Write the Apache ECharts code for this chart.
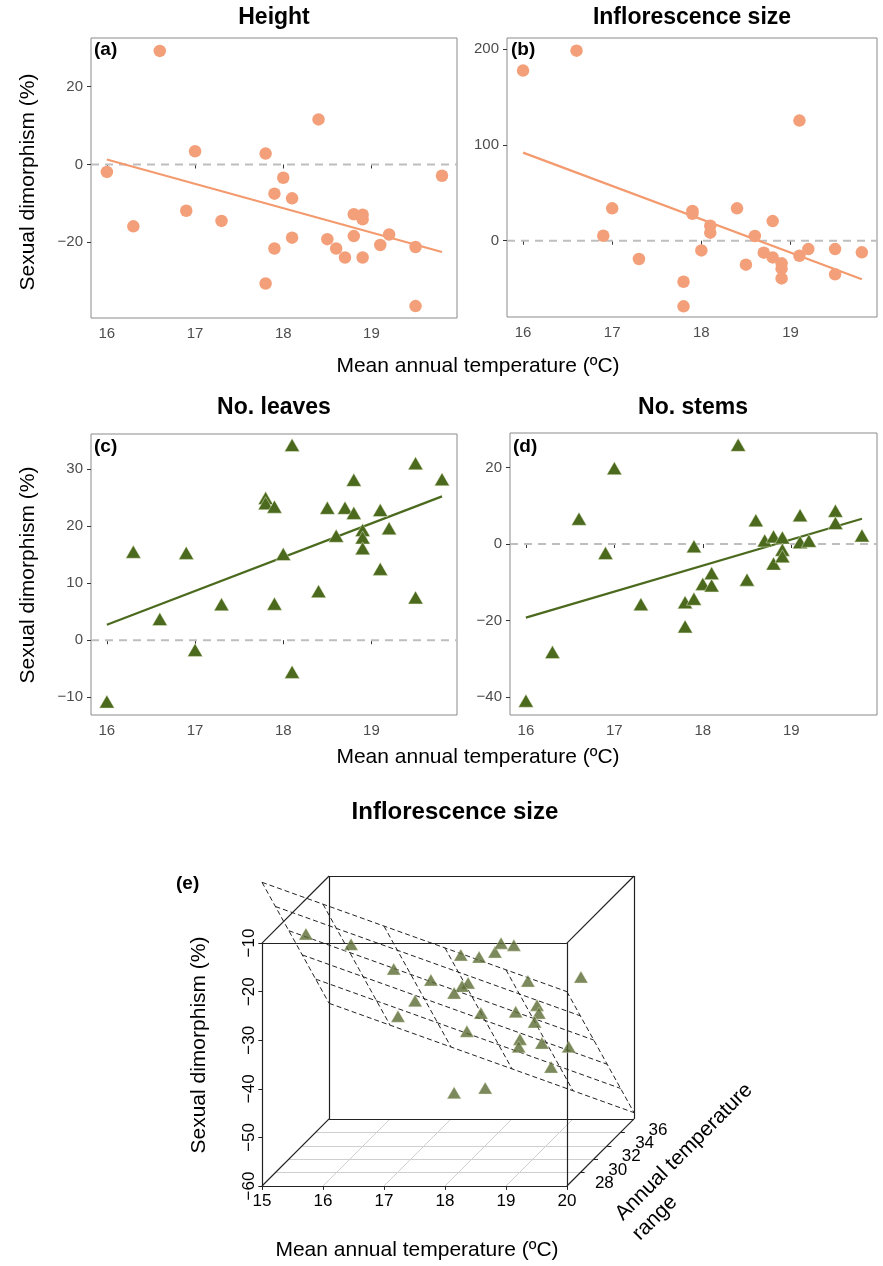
<!DOCTYPE html>
<html>
<head>
<meta charset="utf-8">
<script src="https://cdn.jsdelivr.net/npm/echarts@6.0.0/dist/echarts.min.js"></script>
<style>
html,body{margin:0;padding:0;background:#fff;}
#main{width:883px;height:1266px;}
</style>
</head>
<body>
<div id="main"></div>
<script>
// ---------- DATA ----------
// (a) Height
const matA = [16.0,16.6,16.3,16.9,17.0,17.3,17.8,17.8,17.9,17.9,18.0,18.1,18.1,18.4,18.5,18.6,18.7,18.8,18.8,18.9,18.9,18.9,19.1,19.2,19.5,19.5,19.8];
const heightDim = [-1.9,29.2,-15.9,-11.9,3.4,-14.5,2.8,-30.6,-7.5,-21.6,-3.4,-8.7,-18.8,11.6,-19.2,-21.6,-23.9,-12.8,-18.4,-12.9,-14.1,-23.9,-20.7,-18.0,-21.2,-36.4,-2.9];
// (b) Inflorescence size
const matB = [16.0,16.6,16.9,17.0,17.3,17.8,17.8,17.9,17.9,18.0,18.1,18.1,18.4,18.5,18.6,18.7,18.8,18.8,18.9,18.9,18.9,19.1,19.1,19.2,19.5,19.5,19.8];
const inflDim = [177.5,198.3,5.2,33.8,-19.1,-42.8,-68.5,31.0,28.0,-10.1,15.7,8.4,33.8,-25.0,4.9,-12.5,20.5,-17.4,-23.6,-29.2,-39.3,125.3,-15.7,-8.7,-8.7,-35.1,-12.1];
// (c) No. leaves
const matC = [16.0,16.3,16.6,16.9,17.0,17.3,17.8,17.8,17.9,17.9,18.0,18.1,18.1,18.4,18.5,18.6,18.7,18.8,18.8,18.9,18.9,18.9,19.1,19.1,19.2,19.5,19.5,19.8];
const leavesDim = [-10.75,15.5,3.7,15.3,-1.7,6.3,24.9,24.0,23.4,6.4,15.1,34.2,-5.55,8.6,23.2,18.3,23.2,28.1,22.3,19.3,18.0,16.1,22.8,12.5,19.6,31.0,7.5,28.2];
// (d) No. stems
const matD = [16.0,16.3,16.6,16.9,17.0,17.3,17.8,17.8,17.9,17.9,18.0,18.1,18.1,18.4,18.5,18.6,18.7,18.8,18.8,18.9,18.9,18.9,19.1,19.1,19.2,19.5,19.5,19.8];
const stemsDim = [-40.9,-28.2,6.6,-2.35,19.8,-15.7,-15.2,-21.5,-0.6,-14.3,-10.4,-7.6,-10.8,25.9,-9.3,6.2,0.95,2.0,-5.1,1.7,-1.5,-3.2,7.5,0.5,0.85,8.7,5.5,2.25];
// fitted lines (end points)
const fitX = [16.0, 19.8];
const fitHeight = [1.3, -22.5];
const fitInfl = [91.9, -40.3];
const fitLeaves = [2.7, 25.2];
const fitStems = [-19.2, 6.6];
// tick labels
const tempTicks = [16,17,18,19];
const ticksA = [-20,0,20];
const ticksB = [0,100,200];
const ticksC = [-10,0,10,20,30];
const ticksD = [-40,-20,0,20];
// (e) 3D inflorescence size
const mat3d = [15.61,16.13,16.50,17.33,16.96,16.35,18.04,18.12,18.60,18.81,18.91,17.83,17.95,17.71,18.70,19.79,17.93,18.03,18.83,19.07,18.88,19.25,18.68,18.88,19.15,19.70,19.08,18.04,18.44];
const range3d = [27,29,32,30,31,34,28,30,28,27,28,31,29,30,32,30,32,29,29,30,32,28,31,29,30,29,32,27,28];
const dim3d = [-9.5,-14.4,-23.6,-23.1,-28.8,-36.1,-15.2,-18.4,-14.6,-11.4,-13.2,-25.1,-23.0,-25.8,-26.1,-22.5,-32.7,-32.3,-28.3,-28.3,-32.7,-29.0,-36.7,-35.5,-36.1,-35.5,-43.8,-42.2,-42.6];
const tempTicks3d = [15,16,17,18,19,20];
const rangeTicks3d = [26,28,30,32,34,36];
const rangeLabels3d = [28,30,32,34,36];
const dimTicks3d = [-60,-50,-40,-30,-20,-10];
// regression plane (value at 15 °C / range 26, slopes)
const planeAt0 = 2.5, planeSlopeTemp = -4.5, planeSlopeRange = -3.87;

// ---------- STYLE ----------
const FONT = "'Liberation Sans', Arial, Helvetica, sans-serif";
const ORANGE = '#F3A07A', ORANGE_LINE = '#F39A6E';
const GREEN = '#4B6A1E', GREEN3D = '#5B6C33';

const chart = echarts.init(document.getElementById('main'), null, {renderer:'canvas', width:883, height:1266});

const panels = [
  {grid:{left:91, top:38, width:366, height:280}, ymin:-39.46, ymax:32.52, yt:ticksA, x:matA, y:heightDim, fit:fitHeight, color:ORANGE, lc:ORANGE_LINE, sym:'circle', size:12.5},
  {grid:{left:507, top:38, width:370, height:279}, ymin:-79.6, ymax:211.5, yt:ticksB, x:matB, y:inflDim, fit:fitInfl, color:ORANGE, lc:ORANGE_LINE, sym:'circle', size:12.5},
  {grid:{left:91, top:434, width:366, height:281}, ymin:-13.1, ymax:36.13, yt:ticksC, x:matC, y:leavesDim, fit:fitLeaves, color:GREEN, lc:GREEN, sym:'triangle', size:[15,13]},
  {grid:{left:510, top:433, width:367, height:282}, ymin:-44.63, ymax:28.99, yt:ticksD, x:matD, y:stemsDim, fit:fitStems, color:GREEN, lc:GREEN, sym:'triangle', size:[15,13]}
];
const XMIN = 15.82, XMAX = 19.97;
const minus = v => String(v).replace('-', '\u2212');

const grids = [], xAxes = [], yAxes = [], series = [];
panels.forEach((p, i) => {
  grids.push(Object.assign({show:true, borderColor:'#8a8a8a', borderWidth:1, backgroundColor:'#fff'}, p.grid));
  xAxes.push({type:'value', gridIndex:i, min:XMIN, max:XMAX,
    axisLine:{show:false}, splitLine:{show:false},
    axisTick:{show:true, length:4, customValues:tempTicks, lineStyle:{color:'#333', width:1}},
    axisLabel:{customValues:tempTicks, color:'#4d4d4d', fontSize:15, fontFamily:FONT, margin:8}});
  yAxes.push({type:'value', gridIndex:i, min:p.ymin, max:p.ymax,
    axisLine:{show:false}, splitLine:{show:false},
    axisTick:{show:true, length:4, customValues:p.yt, lineStyle:{color:'#333', width:1}},
    axisLabel:{customValues:p.yt, color:'#4d4d4d', fontSize:15, fontFamily:FONT, margin:8, formatter:minus}});
  series.push({type:'line', xAxisIndex:i, yAxisIndex:i, silent:true, symbol:'none',
    data:[[XMIN,0],[XMAX,0]], lineStyle:{color:'#BEBEBE', width:2, type:[8,6]}, z:1});
  series.push({type:'line', xAxisIndex:i, yAxisIndex:i, silent:true, symbol:'none',
    data:fitX.map((x,k)=>[x, p.fit[k]]), lineStyle:{color:p.lc, width:2.2}, z:2});
  series.push({type:'scatter', xAxisIndex:i, yAxisIndex:i, symbol:p.sym, symbolSize:p.size,
    data:p.x.map((x,k)=>[x, p.y[k]]),
    itemStyle:{color:p.color, opacity:1, borderColor: p.sym==='triangle' ? 'rgba(235,240,215,0.8)' : 'transparent', borderWidth: p.sym==='triangle'?0.6:0}, z:3});
});

// ---------- 3D oblique projection panel (e) ----------
const T0 = 15, T1 = 20, R0 = 26, R1 = 36, Z0 = -60, Z1 = -10;
const DEPTH_X = 1.1, DEPTH_Z = 13.8;
function proj(t, r, z){ const d = (r - R0)/(R1 - R0); return [t + DEPTH_X*d, z + DEPTH_Z*d]; }
function plane(t, r){ return planeAt0 + planeSlopeTemp*(t - T0) + planeSlopeRange*(r - R0); }
const G = 4;
grids.push({left:262, top:876, width:372, height:310, show:false});
xAxes.push({type:'value', gridIndex:G, min:T0, max:T1 + DEPTH_X, show:false});
yAxes.push({type:'value', gridIndex:G, min:Z0, max:Z1 + DEPTH_Z, show:false});

function seg(a, b){ return {coords:[a, b]}; }
const floor = [];
tempTicks3d.slice(1, -1).forEach(t => floor.push(seg(proj(t,R0,Z0), proj(t,R1,Z0))));
rangeTicks3d.slice(1).slice(0,-1).forEach(r => floor.push(seg(proj(T0,r,Z0), proj(T1,r,Z0))));
const box = [];
[[R0],[R1]].forEach(([r]) => {
  box.push(seg(proj(T0,r,Z0), proj(T1,r,Z0)));
  box.push(seg(proj(T1,r,Z0), proj(T1,r,Z1)));
  box.push(seg(proj(T1,r,Z1), proj(T0,r,Z1)));
  box.push(seg(proj(T0,r,Z1), proj(T0,r,Z0)));
});
[[T0,Z0],[T1,Z0],[T0,Z1],[T1,Z1]].forEach(([t,z]) => box.push(seg(proj(t,R0,z), proj(t,R1,z))));
const planeLines = [];
tempTicks3d.forEach(t => planeLines.push(seg(proj(t,R0,plane(t,R0)), proj(t,R1,plane(t,R1)))));
rangeTicks3d.forEach(r => planeLines.push(seg(proj(T0,r,plane(T0,r)), proj(T1,r,plane(T1,r)))));
const ticks = [];
tempTicks3d.forEach(t => { const p = proj(t,R0,Z0); ticks.push(seg(p, [p[0], p[1]-0.8])); });
dimTicks3d.forEach(z => { const p = proj(T0,R0,z); ticks.push(seg(p, [p[0]-0.06, p[1]])); });
rangeLabels3d.slice(0,-1).forEach(r => { const p = proj(T1,r,Z0); ticks.push(seg(p, [p[0]+0.07, p[1]])); });

const linesBase = {type:'lines', coordinateSystem:'cartesian2d', xAxisIndex:G, yAxisIndex:G, silent:true, clip:false, polyline:false, effect:{show:false}};
series.push(Object.assign({}, linesBase, {data:floor, lineStyle:{color:'#cfcfcf', width:1, opacity:1}, z:1}));
series.push(Object.assign({}, linesBase, {data:box, lineStyle:{color:'#222', width:1.2, opacity:1}, z:2}));
series.push(Object.assign({}, linesBase, {data:planeLines, lineStyle:{color:'#222', width:1, type:[5,3], opacity:1}, z:3}));
series.push(Object.assign({}, linesBase, {data:ticks, lineStyle:{color:'#222', width:1, opacity:1}, z:2}));
series.push({type:'scatter', xAxisIndex:G, yAxisIndex:G, symbol:'triangle', symbolSize:[14,12], clip:false,
  data:mat3d.map((t,k)=>proj(t, range3d[k], dim3d[k])),
  itemStyle:{color:GREEN3D, borderColor:'rgba(235,240,215,0.8)', borderWidth:0.6}, z:4});

chart.setOption({
  animation:false,
  backgroundColor:'#fff',
  grid:grids, xAxis:xAxes, yAxis:yAxes, series:series
});

// ---------- TEXTS ----------
function txt(x, y, text, size, opts){
  opts = opts || {};
  return {type:'text', x:x, y:y, rotation:opts.rot||0, silent:true, z:100,
    style:{text:text, x:0, y:0, fill:opts.color||'#000',
      font:(opts.bold?'bold ':'') + size + 'px ' + FONT,
      textAlign:opts.align||'center', textVerticalAlign:'middle',
      align:opts.align||'center', verticalAlign:'middle'}};
}
const texts = [];
texts.push(txt(274, 18, 'Height', 23, {bold:true}));
texts.push(txt(692, 18, 'Inflorescence size', 23, {bold:true}));
texts.push(txt(274, 408, 'No. leaves', 23, {bold:true}));
texts.push(txt(693, 408, 'No. stems', 23, {bold:true}));
texts.push(txt(478, 366, 'Mean annual temperature (\u00BAC)', 21));
texts.push(txt(478, 757, 'Mean annual temperature (\u00BAC)', 21));
texts.push(txt(28, 182, 'Sexual dimorphism (%)', 21, {rot:Math.PI/2}));
texts.push(txt(28, 575, 'Sexual dimorphism (%)', 21, {rot:Math.PI/2}));
texts.push(txt(94, 50, '(a)', 19, {bold:true, align:'left'}));
texts.push(txt(511, 50, '(b)', 19, {bold:true, align:'left'}));
texts.push(txt(94, 447, '(c)', 19, {bold:true, align:'left'}));
texts.push(txt(513, 447, '(d)', 19, {bold:true, align:'left'}));
// panel (e)
texts.push(txt(455, 812, 'Inflorescence size', 24, {bold:true}));
texts.push(txt(176, 884, '(e)', 19, {bold:true, align:'left'}));
texts.push(txt(199, 1045, 'Sexual dimorphism (%)', 21, {rot:Math.PI/2}));
texts.push(txt(417, 1250, 'Mean annual temperature (\u00BAC)', 21));
texts.push(txt(684, 1152, 'Annual temperature', 21, {rot:Math.PI/4}));
texts.push(txt(655, 1218, 'range', 21, {rot:Math.PI/4}));
const px = p => chart.convertToPixel({gridIndex:G}, p);
tempTicks3d.forEach(t => { const p = px(proj(t,R0,Z0)); texts.push(txt(p[0], p[1]+15, String(t), 17)); });
dimTicks3d.forEach(z => { const p = px(proj(T0,R0,z)); texts.push(txt(p[0]-13, p[1], minus(z), 17, {rot:Math.PI/2})); });
rangeLabels3d.forEach(r => { const p = px(proj(T1,r,Z0)); texts.push(txt(p[0]+24, p[1]+11, String(r), 17)); });
chart.setOption({graphic:texts});
</script>
</body>
</html>
